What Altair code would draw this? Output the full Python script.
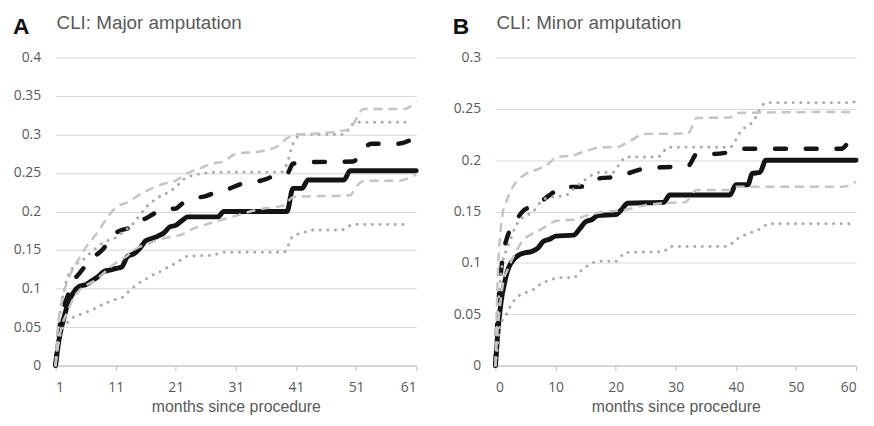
import altair as alt
import pandas as pd

# ---------------- Panel A: CLI major amputation ----------------
a_solid_m = [1, 1.5, 2, 2.5, 3, 4, 5, 6, 7, 8, 9, 10, 11, 12, 13, 14, 15, 16, 17, 18, 19, 20, 21, 22, 23, 28, 29, 39.5, 40.5, 42, 43, 49, 50, 61]
a_solid_v = [0, 0.03, 0.05, 0.065, 0.08, 0.095, 0.103, 0.105, 0.11, 0.115, 0.122, 0.124, 0.126, 0.128, 0.142, 0.145, 0.152, 0.162, 0.165, 0.168, 0.172, 0.18, 0.182, 0.188, 0.193, 0.193, 0.2, 0.2, 0.23, 0.23, 0.241, 0.241, 0.253, 0.253]

a_dash_m = [1, 1.5, 2, 3, 4, 5, 6, 7, 8, 9, 10, 11, 12, 13, 14, 16, 18, 19, 21, 22, 24, 26, 28, 30, 32, 34, 36, 38, 39.5, 40.5, 43, 50.5, 52, 53.5, 58, 61]
a_dash_v = [0, 0.04, 0.065, 0.09, 0.11, 0.12, 0.13, 0.14, 0.145, 0.152, 0.165, 0.172, 0.176, 0.178, 0.185, 0.191, 0.2, 0.203, 0.204, 0.21, 0.217, 0.22, 0.226, 0.23, 0.236, 0.238, 0.242, 0.248, 0.249, 0.262, 0.264, 0.265, 0.278, 0.288, 0.288, 0.297]

a_dash_hi_m = [1, 1.3, 1.7, 2.2, 3, 4, 5, 6, 7, 8, 9, 10, 11, 13, 15, 17, 19, 21, 23, 25, 27, 29, 31, 35, 38, 39.5, 41, 44, 50, 51, 52.2, 59, 61]
a_dash_hi_v = [0, 0.04, 0.07, 0.09, 0.11, 0.127, 0.14, 0.153, 0.163, 0.173, 0.185, 0.196, 0.205, 0.212, 0.222, 0.23, 0.236, 0.24, 0.25, 0.256, 0.262, 0.265, 0.275, 0.278, 0.285, 0.295, 0.3, 0.301, 0.307, 0.32, 0.333, 0.333, 0.343]

a_dash_lo_m = [1, 1.5, 2, 3, 4, 5, 6, 7, 8, 9, 10, 11, 12, 13, 14, 16, 18, 20, 22, 24, 26, 28, 30, 32, 35, 39, 40.6, 50, 51, 52.5, 58, 61]
a_dash_lo_v = [0, 0.03, 0.05, 0.07, 0.088, 0.098, 0.104, 0.108, 0.113, 0.12, 0.127, 0.133, 0.138, 0.143, 0.15, 0.157, 0.163, 0.167, 0.17, 0.178, 0.183, 0.188, 0.192, 0.197, 0.203, 0.208, 0.219, 0.221, 0.232, 0.24, 0.24, 0.248]

a_dot_hi_m = [1, 1.5, 2, 2.5, 3, 4, 5, 6, 7, 8, 9, 10, 11, 12, 13, 14, 15, 16, 17, 18, 19, 20, 21, 23, 28, 38.5, 39.5, 40.5, 42, 49, 50, 51, 60]
a_dot_hi_v = [0, 0.05, 0.08, 0.1, 0.115, 0.128, 0.135, 0.14, 0.148, 0.154, 0.16, 0.163, 0.166, 0.172, 0.178, 0.185, 0.195, 0.205, 0.212, 0.218, 0.222, 0.226, 0.232, 0.245, 0.251, 0.251, 0.262, 0.288, 0.3, 0.3, 0.31, 0.316, 0.316]

a_dot_lo_m = [1, 1.5, 2, 3, 4, 5, 6, 7, 8, 9, 10, 11, 12, 13, 14, 15, 16, 17, 18, 19, 20, 21, 22, 23, 27, 29, 39, 40.5, 42, 44, 48.5, 50.5, 60]
a_dot_lo_v = [0, 0.03, 0.045, 0.056, 0.063, 0.066, 0.069, 0.072, 0.076, 0.08, 0.083, 0.086, 0.088, 0.095, 0.102, 0.108, 0.112, 0.117, 0.12, 0.125, 0.129, 0.133, 0.138, 0.142, 0.143, 0.147, 0.147, 0.168, 0.172, 0.176, 0.176, 0.183, 0.183]

# ---------------- Panel B: CLI minor amputation ----------------
b_solid_m = [0, 0.3, 0.6, 1, 1.5, 2, 2.5, 3, 4, 5, 6, 7, 8, 9, 10, 13, 14, 15, 16, 17, 20, 21, 22, 28, 29, 39, 40, 42, 42.7, 44, 45, 60]
b_solid_v = [0, 0.025, 0.045, 0.065, 0.08, 0.092, 0.099, 0.103, 0.108, 0.11, 0.111, 0.114, 0.121, 0.123, 0.126, 0.127, 0.133, 0.14, 0.142, 0.146, 0.147, 0.152, 0.158, 0.159, 0.166, 0.166, 0.176, 0.176, 0.187, 0.188, 0.2, 0.2]

b_dash_m = [0, 0.3, 0.6, 0.9, 1.3, 1.7, 2.2, 3, 3.6, 4.7, 6, 7.4, 9, 10, 11.3, 13.5, 15.7, 17, 20.5, 22, 25, 27.5, 32, 33.5, 36, 39, 40.7, 57.5, 59, 60]
b_dash_v = [0, 0.04, 0.07, 0.09, 0.11, 0.12, 0.129, 0.138, 0.143, 0.151, 0.155, 0.159, 0.166, 0.17, 0.174, 0.174, 0.176, 0.182, 0.184, 0.187, 0.192, 0.193, 0.194, 0.206, 0.206, 0.208, 0.211, 0.211, 0.218, 0.219]

b_dash_hi_m = [0, 0.2, 0.4, 0.8, 1.2, 1.9, 2.5, 3, 4, 5.2, 7.4, 8.5, 10.2, 12.9, 14, 15.7, 17.3, 20, 22.2, 24.8, 32, 33.5, 39, 40.1, 60]
b_dash_hi_v = [0, 0.05, 0.09, 0.128, 0.148, 0.161, 0.17, 0.175, 0.182, 0.187, 0.192, 0.195, 0.203, 0.2045, 0.207, 0.21, 0.2125, 0.2125, 0.218, 0.2255, 0.226, 0.241, 0.2415, 0.246, 0.247]

b_dash_lo_m = [0, 0.3, 0.7, 1, 1.4, 2, 2.5, 3.5, 4.7, 6, 7.4, 8.5, 10.2, 12.9, 15.7, 18.4, 21.1, 23.9, 27.7, 31.5, 33.5, 39, 40.1, 57.7, 60]
b_dash_lo_v = [0, 0.03, 0.055, 0.07, 0.084, 0.093, 0.1, 0.112, 0.1225, 0.128, 0.132, 0.136, 0.141, 0.142, 0.147, 0.15, 0.151, 0.155, 0.158, 0.159, 0.171, 0.171, 0.174, 0.174, 0.179]

b_dot_hi_m = [0, 0.3, 0.6, 1.1, 1.8, 2.5, 3.3, 4.1, 5, 6.3, 7.2, 8.5, 11.8, 13, 14.5, 17.3, 19.5, 20.5, 21.7, 27, 28.8, 39, 40, 40.7, 42.9, 44.5, 45, 59.4, 60]
b_dot_hi_v = [0, 0.04, 0.07, 0.097, 0.112, 0.1225, 0.135, 0.142, 0.146, 0.15, 0.157, 0.163, 0.166, 0.172, 0.179, 0.188, 0.188, 0.195, 0.203, 0.203, 0.2125, 0.2125, 0.22, 0.227, 0.238, 0.254, 0.256, 0.256, 0.259]

b_dot_lo_m = [0, 0.3, 0.6, 1, 1.7, 2.5, 3.9, 5, 6.3, 7.7, 8.5, 10.7, 13, 14, 15.3, 17.2, 20, 21.6, 28, 29, 38.5, 40.1, 42.3, 44, 45.6, 60]
b_dot_lo_v = [0, 0.015, 0.0325, 0.042, 0.0485, 0.058, 0.068, 0.071, 0.074, 0.08, 0.082, 0.0855, 0.0855, 0.091, 0.097, 0.1015, 0.1015, 0.11, 0.111, 0.116, 0.116, 0.123, 0.129, 0.133, 0.138, 0.138]

a_xticks = [1, 11, 21, 31, 41, 51, 61]
b_xticks = [0, 10, 20, 30, 40, 50, 60]
a_yticks = [0, 0.05, 0.1, 0.15, 0.2, 0.25, 0.3, 0.35, 0.4]
b_yticks = [0, 0.05, 0.1, 0.15, 0.2, 0.25, 0.3]

TEXT = "#595959"

STYLES = {
    "dot": dict(color="#ababab", strokeWidth=3, strokeDash=[0.1, 7.6], strokeCap="round"),
    "grey": dict(color="#c4c4c4", strokeWidth=2.5, strokeDash=[9, 6]),
    "dash": dict(color="#141414", strokeWidth=4.5, strokeDash=[11, 20], strokeCap="round"),
    "solid": dict(color="#141414", strokeWidth=5, strokeCap="round"),
}


def line(m, v, style, xdom, xticks, ydom, yticks):
    df = pd.DataFrame({"m": m, "v": v})
    return alt.Chart(df).mark_line(interpolate="monotone", **STYLES[style]).encode(
        x=alt.X("m:Q", scale=alt.Scale(domain=xdom, nice=False, zero=False),
                axis=alt.Axis(values=xticks, title="months since procedure", grid=False)),
        y=alt.Y("v:Q", scale=alt.Scale(domain=ydom, nice=False),
                axis=alt.Axis(values=yticks, format="~g", title=None)),
        order=alt.Order("m:Q"),
    )


def panel(letter, title, series, xdom, xticks, ydom, yticks):
    layers = [line(m, v, s, xdom, xticks, ydom, yticks) for (m, v, s) in series]
    lab = alt.Chart(pd.DataFrame({"t": [letter]})).mark_text(
        align="left", baseline="alphabetic", font="Liberation Sans", fontSize=23,
        fontWeight="bold", color="#111111"
    ).encode(text="t:N", x=alt.value(-43), y=alt.value(-24))
    ttl = alt.Chart(pd.DataFrame({"t": [title]})).mark_text(
        align="left", baseline="alphabetic", font="Liberation Sans", fontSize=19,
        color=TEXT
    ).encode(text="t:N", x=alt.value(1), y=alt.value(-29))
    # invisible corner marker that fixes the panel's top-left extent
    corner = alt.Chart(pd.DataFrame({"t": [0]})).mark_rule(
        strokeOpacity=0, strokeWidth=1
    ).encode(x=alt.value(-47.5), x2=alt.value(-47.5), y=alt.value(-47.5), y2=alt.value(-40))
    return alt.layer(*layers, lab, ttl, corner).properties(width=364, height=311)


pa = panel("A", "CLI: Major amputation", [
    (a_solid_m, a_solid_v, "solid"),
    (a_dash_m, a_dash_v, "dash"),
    (a_dot_hi_m, a_dot_hi_v, "dot"),
    (a_dot_lo_m, a_dot_lo_v, "dot"),
    (a_dash_hi_m, a_dash_hi_v, "grey"),
    (a_dash_lo_m, a_dash_lo_v, "grey"),
], [1, 61], a_xticks, [0, 0.4], a_yticks)

pb = panel("B", "CLI: Minor amputation", [
    (b_solid_m, b_solid_v, "solid"),
    (b_dash_m, b_dash_v, "dash"),
    (b_dot_hi_m, b_dot_hi_v, "dot"),
    (b_dot_lo_m, b_dot_lo_v, "dot"),
    (b_dash_hi_m, b_dash_hi_v, "grey"),
    (b_dash_lo_m, b_dash_lo_v, "grey"),
], [0, 60], b_xticks, [0, 0.3], b_yticks)

chart = alt.hconcat(pa, pb, spacing=80, bounds="flush").properties(
    padding={"left": 0, "top": 0, "right": 0, "bottom": 0}
).configure_view(stroke=None).configure_axisX(
    domainColor="#bfbfbf", tickColor="#bfbfbf", tickSize=5, ticks=True,
    labelFont="Open Sans", labelFontSize=14, labelColor=TEXT, labelPadding=10,
    titleFont="Liberation Sans", titleFontSize=16, titleFontWeight="normal",
    titleColor=TEXT, titlePadding=4,
).configure_axisY(
    domain=False, ticks=False, grid=True, gridColor="#d9d9d9", gridWidth=1,
    labelFont="Open Sans", labelFontSize=14, labelColor=TEXT, labelPadding=15,
)

chart.save("out.html", embed_options={"renderer": "svg", "actions": False})
